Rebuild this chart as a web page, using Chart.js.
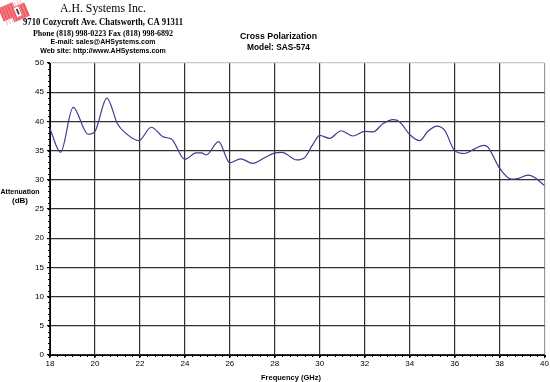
<!DOCTYPE html>
<html>
<head>
<meta charset="utf-8">
<script src="https://cdn.jsdelivr.net/npm/chart.js@4"></script>
<style>
  body { margin: 0; background: #fff; }
  canvas { display: block; }
</style>
</head>
<body>
<canvas id="xpolChart" width="550" height="382"></canvas>
<script>
// frequency points (GHz)
const freqs = [18.0, 18.47, 19.03, 19.69, 20.0, 20.53, 21.0, 21.3, 21.95, 22.5,
  23.07, 23.4, 24.0, 24.5, 24.75, 24.95, 25.5, 26.0, 26.48, 27.02,
  27.58, 28.0, 28.32, 28.98, 29.34, 29.7, 30.0, 30.44, 30.95, 31.47,
  32.0, 32.37, 32.81, 33.26, 33.56, 34.0, 34.44, 34.81, 35.21, 35.56,
  36.0, 36.44, 36.89, 37.3, 37.48, 38.0, 38.52, 38.81, 39.26, 39.56, 40.0];
// attenuation (dB)
const attenuation = [38.7, 34.7, 42.4, 37.8, 38.3, 44.0, 39.6, 38.2, 36.7, 39.0,
  37.3, 37.0, 33.5, 34.6, 34.6, 34.25, 36.55, 32.9, 33.6, 32.8,
  33.85, 34.6, 34.7, 33.4, 33.85, 36.1, 37.6, 37.1, 38.4, 37.5,
  38.3, 38.2, 39.6, 40.3, 39.9, 37.75, 36.7, 38.3, 39.2, 38.45,
  35.0, 34.5, 35.3, 35.9, 35.6, 32.0, 30.1, 30.2, 30.8, 30.4, 29.0];

const xTicks = [18, 20, 22, 24, 26, 28, 30, 32, 34, 36, 38, 40];
const yTicks = [0, 5, 10, 15, 20, 25, 30, 35, 40, 45, 50];

const headerLines = [
  { text: 'A.H. Systems Inc.', font: '13px "Liberation Serif"', y: 9, w: 86 },
  { text: '9710 Cozycroft Ave. Chatsworth, CA 91311', font: 'bold 10px "Liberation Serif"', y: 22.5, w: 160 },
  { text: 'Phone (818) 998-0223 Fax (818) 998-6892', font: 'bold 8px "Liberation Serif"', y: 33.5, w: 142 },
  { text: 'E-mail: sales@AHSystems.com', font: 'bold 7px "Liberation Sans"', y: 42, w: 107 },
  { text: 'Web site: http://www.AHSystems.com', font: 'bold 7px "Liberation Sans"', y: 51, w: 126 }
];
const titleLines = ['Cross Polarization', 'Model: SAS-574'];

const decorations = {
  id: 'decorations',
  afterDraw(chart) {
    const ctx = chart.ctx;
    const xs = chart.scales.x, ys = chart.scales.y;
    ctx.save();

    // logo
    ctx.save();
    ctx.translate(14, 12);
    ctx.rotate(-0.4);
    ctx.scale(1.2, 1.2);
    ctx.fillStyle = '#ee5a66';
    ctx.beginPath();
    ctx.moveTo(-11, -8); ctx.lineTo(2, -8); ctx.lineTo(2, -4); ctx.lineTo(11, -4);
    ctx.lineTo(11, 8); ctx.lineTo(-3, 8); ctx.lineTo(-3, 4); ctx.lineTo(-11, 4);
    ctx.closePath();
    ctx.fill();
    ctx.strokeStyle = '#f7a0a8';
    ctx.lineWidth = 0.6;
    ctx.beginPath();
    for (let k = -9; k <= 10; k += 2.5) { ctx.moveTo(k, -8); ctx.lineTo(k, 8); }
    ctx.stroke();
    ctx.fillStyle = '#fff';
    ctx.fillRect(1, -3, 4, 8);
    ctx.fillStyle = '#444';
    ctx.fillRect(2.2, -1.5, 1.6, 5);
    ctx.restore();

    // header text
    ctx.fillStyle = '#000';
    ctx.textAlign = 'center';
    ctx.textBaseline = 'middle';
    headerLines.forEach(l => {
      ctx.font = l.font;
      ctx.fillText(l.text, 103, l.y, l.w);
    });

    // chart title
    ctx.font = 'bold 9.5px "Liberation Sans"';
    ctx.fillText(titleLines[0], 278.5, 36, 77);
    ctx.fillText(titleLines[1], 278.5, 47.5, 63);

    // axis titles
    ctx.font = 'bold 8px "Liberation Sans"';
    ctx.fillText('Attenuation', 20, 192, 39);
    ctx.fillText('(dB)', 20, 201);
    ctx.fillText('Frequency (GHz)', 291, 377.5, 60);

    // minor ticks
    ctx.strokeStyle = '#000';
    ctx.lineWidth = 1;
    ctx.beginPath();
    for (let v = 0; v <= 50; v += 1) {
      const py = Math.round(ys.getPixelForValue(v)) + 0.5;
      ctx.moveTo(xs.left - 2, py); ctx.lineTo(xs.left, py);
    }
    for (let i = 0; i <= 66; i++) {
      const px = Math.round(xs.getPixelForValue(18 + i / 3)) + 0.5;
      ctx.moveTo(px, ys.bottom); ctx.lineTo(px, ys.bottom + 2);
    }
    ctx.stroke();
    ctx.restore();
  }
};

const ctx = document.getElementById('xpolChart').getContext('2d');
const xpolChart = new Chart(ctx, {
  type: 'line',
  data: {
    datasets: [{
      label: 'Cross Polarization',
      data: freqs.map((f, i) => ({ x: f, y: attenuation[i] })),
      borderColor: '#3c3c90',
      borderWidth: 1.2,
      pointRadius: 0,
      fill: false,
      cubicInterpolationMode: 'monotone'
    }]
  },
  options: {
    responsive: false,
    animation: false,
    layout: { padding: { top: 63, right: 5, left: 0, bottom: 0 } },
    plugins: {
      legend: { display: false },
      tooltip: { enabled: false }
    },
    scales: {
      x: {
        type: 'linear',
        min: 18,
        max: 40,
        afterBuildTicks: s => { s.ticks = xTicks.map(v => ({ value: v })); },
        afterFit: s => { s.height = 27; },
        ticks: { color: '#000', font: { family: 'Liberation Sans', size: 8 }, padding: 1, maxRotation: 0 },
        grid: {
          color: c => (c.tick && c.tick.value === 40) ? '#9a9a9a' : '#303030',
          lineWidth: 1.2,
          tickLength: 3,
          tickColor: '#000'
        },
        border: { color: '#000', width: 1 }
      },
      y: {
        min: 0,
        max: 50,
        afterBuildTicks: s => { s.ticks = yTicks.map(v => ({ value: v })); },
        afterFit: s => { s.width = 50; },
        ticks: { color: '#000', font: { family: 'Liberation Sans', size: 8 }, padding: 3 },
        grid: {
          color: c => (c.tick && c.tick.value === 50) ? '#c8c8c8' : '#303030',
          lineWidth: 1.2,
          tickLength: 3,
          tickColor: '#000'
        },
        border: { color: '#000', width: 1 }
      }
    }
  },
  plugins: [decorations]
});
</script>
</body>
</html>
